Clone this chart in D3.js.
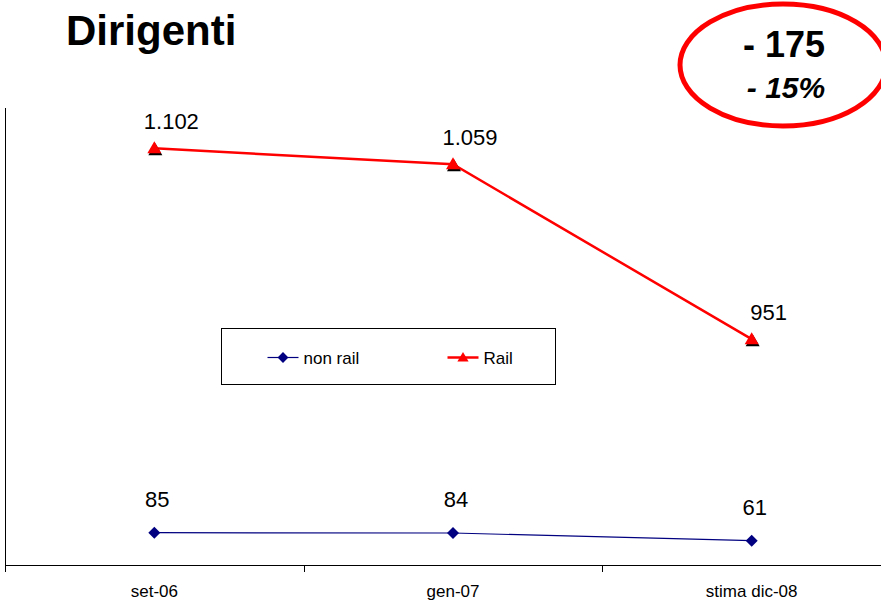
<!DOCTYPE html>
<html>
<head>
<meta charset="utf-8">
<script src="https://cdn.jsdelivr.net/npm/d3@7"></script>
<style>
  body { margin: 0; background: #fff; }
  text { font-family: Arial, "Liberation Sans", sans-serif; }
</style>
</head>
<body>
<div id="chart"></div>
<script>
// Categories and series
const categories = ["set-06", "gen-07", "stima dic-08"];
const nonRail = [85, 84, 61];
const nonRailLabels = ["85", "84", "61"];
// Rail is plotted at the heights shown in the picture,
// the printed labels are the reported values
const rail = [1239, 1191, 666];
const railLabels = ["1.102", "1.059", "951"];
const seriesNames = ["non rail", "Rail"];

const width = 881, height = 600;

const svg = d3.select("#chart").append("svg")
  .attr("width", width)
  .attr("height", height);

// Scales
const x = d3.scaleBand()
  .domain(categories)
  .range([5, 901]);

const y = d3.scaleLinear()
  .domain([0, 1360])
  .range([561, 108]);

const cx = d => x(d) + x.bandwidth() / 2;

// Title
svg.append("text")
  .attr("x", 66)
  .attr("y", 45)
  .style("font-size", "42px")
  .style("font-weight", "bold")
  .text("Dirigenti");

// Callout ellipse
svg.append("ellipse")
  .attr("cx", 783)
  .attr("cy", 65)
  .attr("rx", 103)
  .attr("ry", 61)
  .attr("fill", "none")
  .attr("stroke", "#ff0000")
  .attr("stroke-width", 5);

svg.append("text")
  .attr("x", 784)
  .attr("y", 57)
  .attr("text-anchor", "middle")
  .style("font-size", "36px")
  .style("font-weight", "bold")
  .text("- 175");

svg.append("text")
  .attr("x", 786)
  .attr("y", 98)
  .attr("text-anchor", "middle")
  .style("font-size", "30px")
  .style("font-weight", "bold")
  .style("font-style", "italic")
  .text("- 15%");

// Axes
svg.append("line")
  .attr("x1", 5.5).attr("x2", 5.5)
  .attr("y1", 108).attr("y2", 566)
  .attr("stroke", "#000");

const xAxis = svg.append("g")
  .attr("transform", "translate(0,565.5)")
  .call(d3.axisBottom(x).tickSize(0).tickPadding(0).tickFormat(""));
xAxis.select(".domain").attr("stroke", "#000").attr("d", "M5,0H881");

// tick marks at category boundaries
const boundaries = categories.map(c => x(c)).concat([x.range()[1]]);
svg.append("g").selectAll("line")
  .data(boundaries)
  .enter()
  .append("line")
  .attr("x1", d => Math.round(d) + 0.5)
  .attr("x2", d => Math.round(d) + 0.5)
  .attr("y1", 565)
  .attr("y2", 572)
  .attr("stroke", "#000");

svg.append("g").selectAll("text")
  .data(categories)
  .enter()
  .append("text")
  .attr("x", d => cx(d))
  .attr("y", 597)
  .attr("text-anchor", "middle")
  .style("font-size", "17px")
  .text(d => d);

// Lines
const line = d3.line()
  .x((d, i) => cx(categories[i]))
  .y(d => y(d));

svg.append("path")
  .datum(nonRail)
  .attr("d", line)
  .attr("fill", "none")
  .attr("stroke", "#000080")
  .attr("stroke-width", 1.2);

svg.append("path")
  .datum(rail)
  .attr("d", line)
  .attr("fill", "none")
  .attr("stroke", "#ff0000")
  .attr("stroke-width", 2.5);

// Markers
const diamond = "M0,-6L6,0L0,6L-6,0Z";
const triangle = "M0,-7L7,5L-7,5Z";

svg.append("g").selectAll("path")
  .data(nonRail)
  .enter()
  .append("path")
  .attr("d", diamond)
  .attr("transform", (d, i) => `translate(${cx(categories[i])},${y(d)})`)
  .attr("fill", "#000080");

// triangle shadow then triangle
svg.append("g").selectAll("path")
  .data(rail)
  .enter()
  .append("path")
  .attr("d", triangle)
  .attr("transform", (d, i) => `translate(${cx(categories[i]) + 1},${y(d) + 2})`)
  .attr("fill", "#000");

svg.append("g").selectAll("path")
  .data(rail)
  .enter()
  .append("path")
  .attr("d", triangle)
  .attr("transform", (d, i) => `translate(${cx(categories[i])},${y(d)})`)
  .attr("fill", "#ff0000");

// Data labels
svg.append("g").selectAll("text")
  .data(rail)
  .enter()
  .append("text")
  .attr("x", (d, i) => cx(categories[i]) + 17)
  .attr("y", d => y(d) - 19)
  .attr("text-anchor", "middle")
  .style("font-size", "22px")
  .text((d, i) => railLabels[i]);

svg.append("g").selectAll("text")
  .data(nonRail)
  .enter()
  .append("text")
  .attr("x", (d, i) => cx(categories[i]) + 3)
  .attr("y", d => y(d) - 26)
  .attr("text-anchor", "middle")
  .style("font-size", "22px")
  .text((d, i) => nonRailLabels[i]);

// Legend
const legend = svg.append("g").attr("transform", "translate(221.5,328.5)");
legend.append("rect")
  .attr("width", 334)
  .attr("height", 56)
  .attr("fill", "#fff")
  .attr("stroke", "#000");

const legendItems = [
  { name: seriesNames[0], x: 46, color: "#000080", width: 1.2, marker: diamond, scale: 0.9 },
  { name: seriesNames[1], x: 226, color: "#ff0000", width: 2.5, marker: triangle, scale: 0.8 }
];

legendItems.forEach(item => {
  const g = legend.append("g").attr("transform", `translate(${item.x},29)`);
  g.append("line")
    .attr("x1", 0).attr("x2", 31)
    .attr("y1", 0).attr("y2", 0)
    .attr("stroke", item.color)
    .attr("stroke-width", item.width);
  g.append("path")
    .attr("d", item.marker)
    .attr("transform", `translate(15.5,0) scale(${item.scale})`)
    .attr("fill", item.color);
  g.append("text")
    .attr("x", 36)
    .attr("y", 6)
    .style("font-size", "17px")
    .text(item.name);
});
</script>
</body>
</html>
